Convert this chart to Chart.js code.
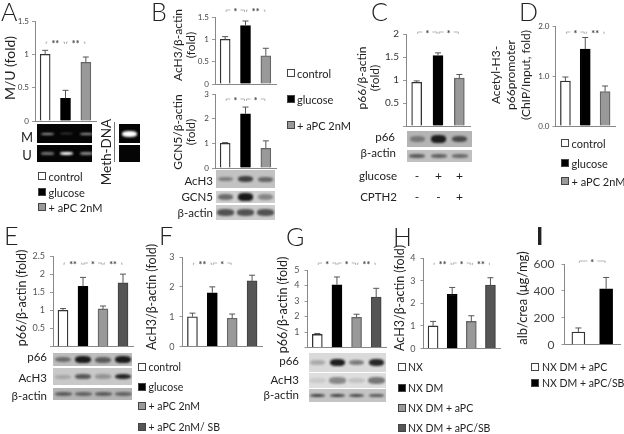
<!DOCTYPE html>
<html>
<head>
<meta charset="utf-8">
<script src="https://cdn.jsdelivr.net/npm/chart.js@4"></script>
<style>
  html, body { margin: 0; padding: 0; background: #fff; }
  #page { position: relative; width: 624px; height: 434px; overflow: hidden; font-family: Lato, "Open Sans", sans-serif; color: #222; filter: blur(0.3px); }
  canvas { position: absolute; }
  .txt { position: absolute; white-space: nowrap; line-height: 1; }
  .letter { position: absolute; line-height: 1; font-family: Lato, sans-serif; font-weight: 300; color: #222; }
  .swatch { position: absolute; width: 5.5px; height: 5.5px; border: 1px solid #444; }
  .gel { position: absolute; overflow: hidden; }
  .band { position: absolute; border-radius: 40%; filter: blur(1px); }
</style>
</head>
<body>
<div id="page"></div>
<script>
"use strict"

const page = document.querySelector("#page");
const FONT = "Lato, 'Open Sans', sans-serif";

// ---------- data ----------
const groupsThree = ["control", "glucose", "+ aPC 2nM"];
const groupsSB = ["control", "glucose", "+ aPC 2nM", "+ aPC 2nM/ SB"];
const groupsNX = ["NX", "NX DM", "NX DM + aPC", "NX DM + aPC/SB"];
const groupsI = ["NX DM + aPC", "NX DM + aPC/SB"];

const valuesA = [1.0, 0.34, 0.88];
const errorsA = [0.06, 0.12, 0.08];
const ticksA = ["0", "0.5", "1", "1.5"];

const valuesB1 = [1.0, 1.31, 0.63];
const errorsB1 = [0.06, 0.1, 0.17];
const ticksB1 = ["0", "0.5", "1", "1.5"];

const valuesB2 = [1.0, 2.2, 0.8];
const errorsB2 = [0.03, 0.27, 0.3];
const ticksB2 = ["0", "1", "2", "3"];

const valuesC = [0.95, 1.53, 1.04];
const errorsC = [0.03, 0.06, 0.08];
const ticksC = ["", "0.5", "1", "1.5", "2"];

const valuesD = [0.9, 1.54, 0.69];
const errorsD = [0.08, 0.23, 0.11];
const ticksD = ["0.0", "1.0", "2.0"];

const valuesE = [1.0, 1.66, 1.04, 1.76];
const errorsE = [0.05, 0.25, 0.08, 0.24];
const ticksE = ["", "0.5", "1", "1.5", "2", "2.5"];

const valuesF = [1.0, 1.8, 0.95, 2.2];
const errorsF = [0.12, 0.2, 0.14, 0.19];
const ticksF = ["0", "1", "2", "3"];

const valuesG = [0.85, 4.05, 1.95, 3.25];
const errorsG = [0.06, 0.5, 0.2, 0.57];
const ticksG = ["", "1", "2", "3", "4", "5"];

const valuesH = [1.0, 2.4, 1.2, 2.8];
const errorsH = [0.2, 0.3, 0.25, 0.33];
const ticksH = ["0", "1", "2", "3", "4"];

const valuesI = [95, 415];
const errorsI = [30, 85];
const ticksI = ["0", "200", "400", "600"];

const WHITE = "#ffffff", BLACK = "#000000", GREY = "#999999", DARK = "#555555";
const EDGE = { [WHITE]: "#333333", [BLACK]: "#000000", [GREY]: "#666666", [DARK]: "#444444" };

// draws the error bars, significance brackets and the y title of one panel
const panelMarks = {
  id: "panelMarks",
  afterDatasetsDraw(chart, args, o) {
    const ctx = chart.ctx, xs = chart.scales.x, ys = chart.scales.y;
    ctx.save();
    o.values.forEach((v, i) => {
      const x = xs.getPixelForValue(i);
      const y0 = ys.getPixelForValue(v), y1 = ys.getPixelForValue(v + o.errors[i]);
      ctx.strokeStyle = "#555";
      ctx.lineWidth = 1;
      ctx.beginPath();
      ctx.moveTo(x, y0);
      ctx.lineTo(x, y1);
      ctx.moveTo(x - 3, y1);
      ctx.lineTo(x + 3, y1);
      ctx.stroke();
    });
    const by = o.bracketY - o.canvasTop;
    o.brackets.forEach((b) => {
      const a = xs.getPixelForValue(b[0]) + 1, c = xs.getPixelForValue(b[1]) - 1, mid = (a + c) / 2;
      const gap = b[2].length * 3 + 2;
      ctx.strokeStyle = "#999";
      ctx.lineWidth = 0.7;
      ctx.beginPath();
      ctx.moveTo(a, by + 2);
      ctx.lineTo(a, by);
      ctx.lineTo(mid - gap, by);
      ctx.moveTo(mid + gap, by);
      ctx.lineTo(c, by);
      ctx.lineTo(c, by + 2);
      ctx.stroke();
      ctx.fillStyle = "#444";
      ctx.font = "bold 9px " + FONT;
      ctx.textAlign = "center";
      ctx.textBaseline = "middle";
      ctx.fillText(b[2], mid, by + 2);
    });
    ctx.fillStyle = "#222";
    ctx.font = o.titleSize + "px " + FONT;
    ctx.textAlign = "center";
    ctx.textBaseline = "middle";
    o.title.forEach((line, i) => {
      ctx.save();
      ctx.translate(o.titleX[i] - o.canvasLeft, o.titleY - o.canvasTop);
      ctx.rotate(-Math.PI / 2);
      ctx.fillText(line, 0, 0);
      ctx.restore();
    });
    ctx.restore();
  },
};

function panel(p) {
  const canvasLeft = Math.min(...p.titleX) - 10;
  const canvasTop = Math.min(p.top, p.bracketY) - 14;
  const canvas = document.createElement("canvas");
  canvas.width = p.right + 8 - canvasLeft;
  canvas.height = p.bottom + 8 - canvasTop;
  canvas.style.left = canvasLeft + "px";
  canvas.style.top = canvasTop + "px";
  page.appendChild(canvas);
  new Chart(canvas, {
    type: "bar",
    data: {
      labels: p.labels,
      datasets: [{
        data: p.values,
        backgroundColor: p.colors,
        borderColor: p.colors.map((c) => EDGE[c]),
        borderWidth: 1.3,
        barThickness: p.barWidth,
      }],
    },
    plugins: [panelMarks],
    options: {
      responsive: false,
      animation: false,
      events: [],
      layout: {
        autoPadding: false,
        padding: { left: 0, top: p.top - canvasTop, right: 8, bottom: 8 },
      },
      plugins: {
        legend: { display: false },
        tooltip: { enabled: false },
        panelMarks: {
          values: p.values, errors: p.errors, brackets: p.brackets, bracketY: p.bracketY,
          title: p.title, titleX: p.titleX, titleY: p.titleY, titleSize: p.titleSize,
          canvasLeft: canvasLeft, canvasTop: canvasTop,
        },
      },
      scales: {
        x: {
          grid: { display: false },
          border: { color: "#888", width: 1 },
          ticks: { display: false },
          afterFit: (s) => { s.height = 0; },
        },
        y: {
          min: 0,
          max: p.max,
          afterFit: (s) => { s.width = p.left - canvasLeft; },
          afterBuildTicks: (s) => {
            s.ticks = p.ticks.map((t, i) => ({ value: (p.max * i) / (p.ticks.length - 1) }));
          },
          grid: { drawOnChartArea: false, tickLength: 3, color: "#999" },
          border: { color: "#888", width: 1 },
          ticks: {
            autoSkip: false,
            padding: p.tickPad,
            color: p.tickColor,
            font: { family: FONT, size: p.tickSize },
            callback: (v, i) => p.ticks[i],
          },
        },
      },
    },
  });
}

// ---------- page helpers ----------
function text(str, x, y, size, align) {
  const d = document.createElement("div");
  d.className = "txt";
  d.textContent = str;
  d.style.fontSize = size + "px";
  d.style.top = y - size / 2 + "px";
  if (align === "right") {
    d.style.right = 624 - x + "px";
  } else if (align === "center") {
    d.style.left = x + "px";
    d.style.transform = "translateX(-50%)";
  } else {
    d.style.left = x + "px";
  }
  page.appendChild(d);
  return d;
}

function letter(str, x, baseline, size) {
  const d = document.createElement("div");
  d.className = "letter";
  d.textContent = str;
  d.style.left = x + "px";
  d.style.fontSize = size + "px";
  d.style.top = baseline - size * 0.86 + "px";
  page.appendChild(d);
  return d;
}

function legend(labels, colors, swatchX, textX, rows, size) {
  labels.forEach((l, i) => {
    const s = document.createElement("div");
    s.className = "swatch";
    s.style.left = swatchX + "px";
    s.style.top = rows[i] - 4 + "px";
    s.style.background = colors[i];
    page.appendChild(s);
    text(l, textX + 1, rows[i], size);
  });
}

function gel(x0, y0, x1, y1, bg, ink, centres, strengths, bandW, bandH) {
  const g = document.createElement("div");
  g.className = "gel";
  g.style.left = x0 + "px";
  g.style.top = y0 + "px";
  g.style.width = x1 - x0 + "px";
  g.style.height = y1 - y0 + "px";
  g.style.background = bg;
  centres.forEach((c, i) => {
    const b = document.createElement("div");
    b.className = "band";
    const h = bandH * (0.7 + 0.5 * strengths[i]);
    b.style.left = c - x0 - bandW / 2 + "px";
    b.style.width = bandW + "px";
    b.style.top = (y1 - y0 - h) / 2 + "px";
    b.style.height = h + "px";
    b.style.background = ink;
    b.style.opacity = strengths[i];
    g.appendChild(b);
  });
  page.appendChild(g);
}

// ---------- panels ----------
panel({ labels: groupsThree, values: valuesA, errors: errorsA, ticks: ticksA, max: 1.5,
  colors: [WHITE, BLACK, GREY], left: 35, right: 96.5, top: 21, bottom: 121, barWidth: 10,
  brackets: [[0, 1, "**"], [1, 2, "**"]], bracketY: 42,
  title: ["M/U (fold)"], titleX: [10], titleY: 68, titleSize: 14, tickSize: 8, tickPad: 3, tickColor: "#444" });

panel({ labels: groupsThree, values: valuesB1, errors: errorsB1, ticks: ticksB1, max: 1.5,
  colors: [WHITE, BLACK, GREY], left: 215, right: 276, top: 17, bottom: 84, barWidth: 10,
  brackets: [[0, 1, "*"], [1, 2, "**"]], bracketY: 10,
  title: ["AcH3/β-actin", "(fold)"], titleX: [178, 191], titleY: 45, titleSize: 12, tickSize: 8, tickPad: 3, tickColor: "#444" });

panel({ labels: groupsThree, values: valuesB2, errors: errorsB2, ticks: ticksB2, max: 3,
  colors: [WHITE, BLACK, GREY], left: 215, right: 276, top: 94, bottom: 168, barWidth: 10,
  brackets: [[0, 1, "*"], [1, 2, "*"]], bracketY: 99,
  title: ["GCN5/β-actin", "(fold)"], titleX: [178, 191], titleY: 132, titleSize: 12, tickSize: 8, tickPad: 3, tickColor: "#444" });

panel({ labels: groupsThree, values: valuesC, errors: errorsC, ticks: ticksC, max: 2,
  colors: [WHITE, BLACK, GREY], left: 406, right: 470, top: 34, bottom: 128, barWidth: 10,
  brackets: [[0, 1, "*"], [1, 2, "*"]], bracketY: 32,
  title: ["p66/β-actin", "(fold)"], titleX: [362, 375], titleY: 78, titleSize: 12, tickSize: 10, tickPad: 4, tickColor: "#333" });

panel({ labels: groupsThree, values: valuesD, errors: errorsD, ticks: ticksD, max: 2,
  colors: [WHITE, BLACK, GREY], left: 555.5, right: 615.5, top: 26, bottom: 126, barWidth: 10,
  brackets: [[0, 1, "*"], [1, 2, "**"]], bracketY: 32,
  title: ["Acetyl-H3-", "p66promoter", "(ChIP/Input, fold)"], titleX: [496, 511, 526], titleY: 75, titleSize: 12, tickSize: 8, tickPad: 3, tickColor: "#444" });

panel({ labels: groupsSB, values: valuesE, errors: errorsE, ticks: ticksE, max: 2.5,
  colors: [WHITE, BLACK, GREY, DARK], left: 53, right: 133, top: 256, bottom: 349, barWidth: 10,
  brackets: [[0, 1, "**"], [1, 2, "*"], [2, 3, "**"]], bracketY: 263,
  title: ["p66/β-actin (fold)"], titleX: [22], titleY: 298, titleSize: 12.5, tickSize: 9, tickPad: 5, tickColor: "#555" });

panel({ labels: groupsSB, values: valuesF, errors: errorsF, ticks: ticksF, max: 3,
  colors: [WHITE, BLACK, GREY, DARK], left: 182.5, right: 262, top: 257, bottom: 349, barWidth: 10,
  brackets: [[0, 1, "**"], [1, 2, "*"]], bracketY: 263,
  title: ["AcH3/β-actin (fold)"], titleX: [152], titleY: 297, titleSize: 12.5, tickSize: 9, tickPad: 5, tickColor: "#555" });

panel({ labels: groupsSB, values: valuesG, errors: errorsG, ticks: ticksG, max: 5,
  colors: [WHITE, BLACK, GREY, DARK], left: 307.5, right: 386.5, top: 270, bottom: 350, barWidth: 10,
  brackets: [[0, 1, "*"], [1, 2, "*"], [2, 3, "**"]], bracketY: 263,
  title: ["p66/β-actin (fold)"], titleX: [283], titleY: 305, titleSize: 12.5, tickSize: 9, tickPad: 5, tickColor: "#555" });

panel({ labels: groupsNX, values: valuesH, errors: errorsH, ticks: ticksH, max: 4,
  colors: [WHITE, BLACK, GREY, DARK], left: 423.5, right: 500.5, top: 258, bottom: 351, barWidth: 10,
  brackets: [[0, 1, "**"], [1, 2, "*"], [2, 3, "**"]], bracketY: 263,
  title: ["AcH3/β-actin (fold)"], titleX: [400], titleY: 298, titleSize: 12.5, tickSize: 9, tickPad: 5, tickColor: "#555" });

panel({ labels: groupsI, values: valuesI, errors: errorsI, ticks: ticksI, max: 600,
  colors: [WHITE, BLACK], left: 564.5, right: 620.5, top: 264, bottom: 351, barWidth: 13,
  brackets: [[0, 1, "*"]], bracketY: 261,
  title: ["alb/crea (μg/mg)"], titleX: [523], titleY: 298, titleSize: 13, tickSize: 12, tickPad: 7, tickColor: "#444" });

// ---------- panel letters ----------
letter("A", 1, 20, 25);
letter("B", 151, 20, 25);
letter("C", 371, 20, 25);
letter("D", 519, 20, 25);
letter("E", 4, 244, 25);
letter("F", 159, 244, 25);
letter("G", 286, 245, 25);
letter("H", 393, 245, 25);
letter("I", 536, 244, 25).style.fontWeight = "700";

// ---------- legends ----------
legend(groupsThree, [WHITE, BLACK, GREY], 38, 47.5, [176, 192, 207], 11);
legend(groupsThree, [WHITE, BLACK, GREY], 287, 296, [73, 99, 125], 11);
legend(groupsThree, [WHITE, BLACK, GREY], 561, 570.5, [143, 163, 181], 11);
legend(groupsSB, [WHITE, BLACK, GREY, DARK], 138, 147.5, [367, 387, 406, 427], 10.5);
legend(groupsNX, [WHITE, BLACK, GREY, DARK], 398, 407, [367, 388, 408, 428], 10.5);
legend(groupsI, [WHITE, BLACK], 531, 541, [367, 383], 10.5);

// ---------- blots and their labels ----------
const centresA = [47, 66, 86];
const centresB = [225, 245, 265];
const centresC = [417, 438.5, 459.5];
const centresE = [63, 83, 103, 123];
const centresG = [317.5, 337, 356.7, 376.5];

const methBandsA = [0.6, 0.35, 0.6];
const unmethBandsA = [0.45, 1, 0.55];
const ach3BandsB = [0.45, 0.85, 0.6];
const gcn5BandsB = [0.55, 1, 0.4];
const actinBandsB = [0.75, 0.75, 0.75];
const p66BandsC = [0.4, 1, 0.7];
const actinBandsC = [0.65, 0.6, 0.55];
const p66BandsE = [0.5, 1, 0.6, 1];
const ach3BandsE = [0.2, 0.65, 0.3, 0.95];
const actinBandsE = [0.65, 0.6, 0.65, 0.6];
const p66BandsG = [0.25, 1, 0.5, 0.95];
const ach3BandsG = [0.1, 0.45, 0.15, 0.55];
const actinBandsG = [0.8, 0.8, 0.75, 0.65];

gel(37, 124, 92, 143, "#050505", "#ffffff", centresA, methBandsA, 13, 2);
gel(37, 145, 92, 162, "#050505", "#ffffff", centresA, unmethBandsA, 13, 3);
text("M", 27, 137, 13, "center");
text("U", 27, 155, 13, "center");
gel(119, 124, 140, 143, "#050505", "#ffffff", [129.5], [1], 15, 5);
gel(119, 145, 140, 162, "#050505", "#ffffff", [], [], 0, 0);
const meth = text("Meth-DNA", 107, 140, 13.5, "center");
meth.style.top = "152px";
meth.style.transform = "translate(-50%, -50%) rotate(-90deg)";
const methRule = document.createElement("div");
methRule.style.cssText = "position:absolute;left:114px;top:122px;width:1px;height:40px;background:#777";
page.appendChild(methRule);

gel(216, 170, 275, 188, "#c2c2c2", "#2a2a2a", centresB, ach3BandsB, 15, 5);
gel(216, 191, 275, 203, "#cfcfcf", "#1a1a1a", centresB, gcn5BandsB, 15, 6);
gel(216, 205, 275, 220, "#cdcdcd", "#2a2a2a", centresB, actinBandsB, 17, 6);
text("AcH3", 213, 181, 11.5, "right");
text("GCN5", 213, 197, 11.5, "right");
text("β-actin", 213, 213, 11.5, "right");

gel(407, 131, 472, 147, "#b4b4b4", "#1c1c1c", centresC, p66BandsC, 15, 6);
gel(407, 150, 472, 162, "#c0c0c0", "#222222", centresC, actinBandsC, 16, 3.5);
text("p66", 395, 137, 11.5, "right");
text("β-actin", 396, 153, 11.5, "right");
text("glucose", 397, 176, 11.5, "right");
text("CPTH2", 397, 197, 11.5, "right");
["-", "+", "+"].forEach((s, i) => text(s, centresC[i], 176, 12, "center"));
["-", "-", "+"].forEach((s, i) => text(s, centresC[i], 197, 12, "center"));

gel(53, 353, 132, 366, "#bdbdbd", "#1a1a1a", centresE, p66BandsE, 16, 6);
gel(53, 368, 132, 385, "#c8c8c8", "#1c1c1c", centresE, ach3BandsE, 16, 5);
gel(53, 388, 132, 400, "#b4b4b4", "#2a2a2a", centresE, actinBandsE, 17, 4);
text("p66", 47, 357, 11.5, "right");
text("AcH3", 47, 378, 11.5, "right");
text("β-actin", 47, 396, 11.5, "right");

gel(309, 353, 386, 372, "#dadada", "#1e1e1e", centresG, p66BandsG, 15, 6);
gel(309, 373, 386, 388, "#dedede", "#222222", centresG, ach3BandsG, 17, 7);
gel(309, 389, 386, 402, "#c4c4c4", "#222222", centresG, actinBandsG, 15, 3);
text("p66", 299, 361, 11.5, "right");
text("AcH3", 299, 380, 11.5, "right");
text("β-actin", 299, 395, 11.5, "right");
</script>
</body>
</html>
